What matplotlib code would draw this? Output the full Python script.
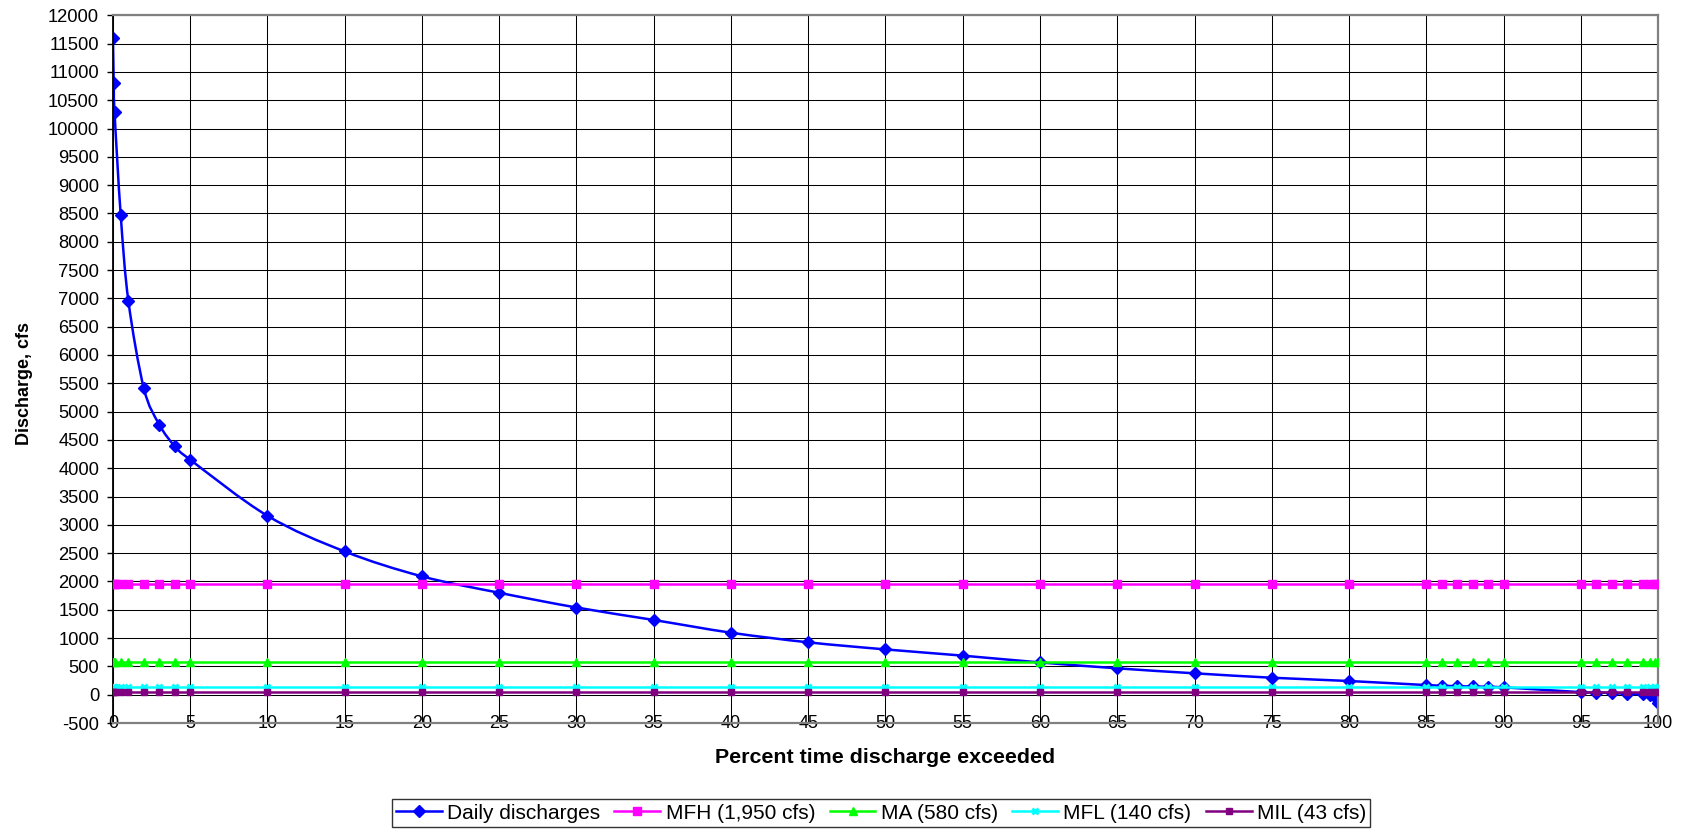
import matplotlib
matplotlib.use("Agg")
import matplotlib.pyplot as plt
from matplotlib.path import Path
from matplotlib.patches import PathPatch
from matplotlib.lines import Line2D
import numpy as np

plt.rcParams['font.family'] = ['Liberation Sans', 'DejaVu Sans']
plt.rcParams['axes.unicode_minus'] = False

# percent of time a discharge is equalled or exceeded
pct = [0, 0.05, 0.1, 0.5, 1, 2, 3, 4, 5, 10, 15, 20, 25, 30, 35, 40, 45, 50,
       55, 60, 65, 70, 75, 80, 85, 86, 87, 88, 89, 90, 95, 96, 97, 98, 99,
       99.5, 99.8, 100]
# flow duration curve, cfs
daily = [11600, 10800, 10300, 8480, 6950, 5410, 4770, 4390, 4150, 3160, 2530,
         2090, 1800, 1540, 1320, 1095, 925, 800, 690, 570, 466, 378, 300, 242,
         170, 160, 150, 145, 140, 130, 45, 38, 30, 15, 5, -10, -40, -140]

# flow thresholds (cfs)
MFH = 1950
MA = 580
MFL = 140
MIL = 43


def smooth_path(x, y):
    # cubic bezier through every point (catmull-rom style tangents)
    p = np.column_stack([x, y]).astype(float)
    verts = [p[0]]
    codes = [Path.MOVETO]
    n = len(p)
    for i in range(n - 1):
        p0 = p[max(i - 1, 0)]
        p1 = p[i]
        p2 = p[i + 1]
        p3 = p[min(i + 2, n - 1)]
        verts += [p1 + (p2 - p0) / 6, p2 - (p3 - p1) / 6, p2]
        codes += [Path.CURVE4] * 3
    return Path(verts, codes)


fig = plt.figure(figsize=(16.91, 8.30), dpi=100)
ax = fig.add_axes([0.0668, 0.1289, 0.9137, 0.8527])

ones = np.ones(len(pct))
blue = '#0000FF'
ax.add_patch(PathPatch(smooth_path(pct, daily), fill=False, edgecolor=blue,
                       lw=1.8, zorder=2))
ax.plot(pct, daily, ls='none', marker='D', ms=6.5, color=blue, zorder=2)

series = [
    (MFH, '#FF00FF', 's', 5.5, 1, 'MFH (1,950 cfs)'),
    (MA, '#00FF00', '^', 5.5, 1, 'MA (580 cfs)'),
    (MFL, '#00FFFF', 'x', 5, 2, 'MFL (140 cfs)'),
    (MIL, '#800080', 's', 5, 1, 'MIL (43 cfs)'),
]
handles = [Line2D([], [], color=blue, lw=1.8, marker='D', ms=6.5)]
labels = ['Daily discharges']
for val, col, mk, ms, mew, lab in series:
    ax.plot(pct, val * ones, color=col, lw=1.8, marker=mk, ms=ms, mew=mew,
            zorder=3)
    handles.append(Line2D([], [], color=col, lw=1.8, marker=mk, ms=ms, mew=mew))
    labels.append(lab)

ax.set_xlim(0, 100)
ax.set_ylim(-500, 12000)
ax.set_xticks(np.arange(0, 101, 5))
ax.set_yticks(np.arange(-500, 12001, 500))
ax.grid(True, color='black', lw=0.75)
ax.set_axisbelow(True)

ax.tick_params(axis='y', direction='out', length=4.5, width=1, pad=5.5,
               labelsize=13.2, colors='black')
ax.tick_params(axis='x', length=0, pad=0, labelsize=13)
plt.setp(ax.get_xticklabels(), va='center')

for s in ['top', 'right', 'bottom']:
    ax.spines[s].set_color('#808080')
    ax.spines[s].set_linewidth(1.6)
ax.spines['left'].set_color('black')
ax.spines['left'].set_linewidth(1.3)

ax.set_xlabel('Percent time discharge exceeded', fontsize=15.4, fontweight='bold')
ax.xaxis.set_label_coords(0.5, -0.035)
ax.set_ylabel('Discharge, cfs', fontsize=13, fontweight='bold')
ax.yaxis.set_label_coords(-0.052, 0.48)

leg = fig.legend(handles, labels, loc='center',
                 bbox_to_anchor=(881 / 1691, 1 - 813 / 830),
                 ncol=5, fontsize=15, frameon=True, fancybox=False,
                 edgecolor='black', handlelength=2.2, handletextpad=0.25,
                 columnspacing=0.7, borderpad=0.2, borderaxespad=0)
leg.get_frame().set_linewidth(1)

plt.savefig('out.png', dpi=100)
